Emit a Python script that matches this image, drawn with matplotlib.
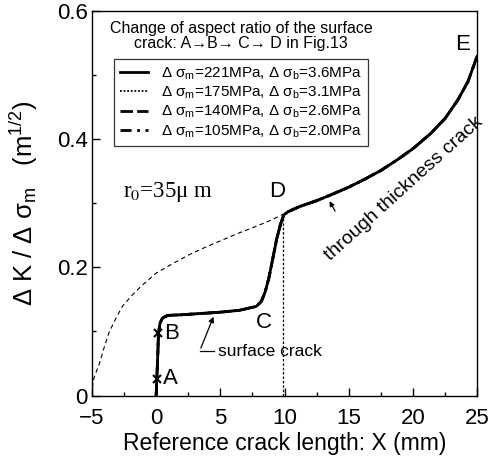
import numpy as np
import matplotlib
matplotlib.use("Agg")
import matplotlib.pyplot as plt
from matplotlib.ticker import MultipleLocator, FuncFormatter

plt.rcParams['font.family'] = ['Liberation Sans', 'DejaVu Sans']
plt.rcParams['mathtext.fontset'] = 'custom'
plt.rcParams['mathtext.rm'] = 'Liberation Sans'
plt.rcParams['mathtext.it'] = 'Liberation Sans'

# normalised K curve for the surface crack -> through thickness crack (A-B-C-D-E)
x_crack = [0, 0.05, 0.12, 0.18, 0.3, 0.5, 0.9, 2, 3.5, 5, 6.5, 7.8, 8.2, 8.5,
           8.8, 9.1, 9.4, 9.7, 9.95, 10.3, 11.2, 12.5, 13.6, 15, 16.2, 17.5,
           18.8, 20, 21.4, 22.5, 23.5, 24.3, 25]
y_crack = [0, 0.026, 0.06, 0.097, 0.113, 0.121, 0.125, 0.126, 0.128, 0.130,
           0.133, 0.139, 0.147, 0.162, 0.185, 0.215, 0.245, 0.268, 0.282,
           0.287, 0.295, 0.304, 0.313, 0.325, 0.337, 0.351, 0.368, 0.385,
           0.409, 0.432, 0.461, 0.490, 0.529]

# through crack of length (X + 5) mm, reference curve
x_through = [-5, -4.95, -4.84, -4.65, -4.45, -4.1, -3.68, -3.2, -2.64, -1.9,
             -1.2, 0, 1.3, 2.6, 3.9, 5.2, 6.5, 7.8, 9, 9.9]
y_through = [0, 0.015, 0.028, 0.038, 0.048, 0.072, 0.098, 0.118, 0.139, 0.156,
             0.170, 0.191, 0.206, 0.220, 0.232, 0.243, 0.254, 0.264, 0.274,
             0.283]

d_sigma_m = [221, 175, 140, 105]
d_sigma_b = [3.6, 3.1, 2.6, 2.0]
styles = ['-', (0, (1, 1)), (0, (4.5, 1.5, 4.5, 1.5, 0.8, 1.5)), (0, (4, 2, 1, 2))]
widths = [2.0, 1.3, 2.0, 2.0]

pts_label = ['A', 'B']
pts_x = [0.08, 0.18]
pts_y = [0.026, 0.097]

fig = plt.figure(figsize=(4.92, 4.63), dpi=100)
ax = fig.add_axes([92 / 492, 1 - 395.5 / 463, 385 / 492, 384.5 / 463])

# all stress levels collapse onto one normalised curve; draw solid last
handles = []
for i in reversed(range(len(d_sigma_m))):
    h, = ax.plot(x_crack, y_crack, color='black', linestyle=styles[i],
                 linewidth=widths[i], zorder=3 + (i == 0),
                 label='Δ σ$_{\\mathrm{m}}$=%dMPa, Δ σ$_{\\mathrm{b}}$=%.1fMPa'
                       % (d_sigma_m[i], d_sigma_b[i]))
    handles.insert(0, h)

ax.plot(x_through, y_through, color='black', linestyle=(0, (4, 3)),
        linewidth=0.8)
ax.plot([x_through[-1], x_through[-1]], [0, y_through[-1]], color='black',
        linestyle=(0, (2, 1.5)), linewidth=0.9)
ax.plot(pts_x, pts_y, linestyle='none', marker='x', color='black',
        markersize=6, markeredgewidth=1.5, zorder=5)

ax.set_xlim(-5, 25)
ax.set_ylim(0, 0.6)
ax.xaxis.set_major_locator(MultipleLocator(5))
ax.xaxis.set_minor_locator(MultipleLocator(2.5))
ax.yaxis.set_major_locator(MultipleLocator(0.2))
ax.yaxis.set_minor_locator(MultipleLocator(0.1))
ax.yaxis.set_major_formatter(FuncFormatter(lambda v, p: '0' if v == 0 else '%.1f' % v))
ax.xaxis.set_major_formatter(FuncFormatter(lambda v, p: '%d' % v if v >= 0 else '\u2212%d' % -v))
ax.tick_params(which='both', direction='in', top=False, right=False,
               labelsize=16, width=1.0)
ax.tick_params(which='major', length=6)
ax.tick_params(which='minor', length=3)
ax.tick_params(axis='x', pad=9)
ax.tick_params(axis='y', pad=3)
for s in ax.spines.values():
    s.set_linewidth(1.0)

ax.set_xlabel('Reference crack length: X (mm)', fontsize=16.5, labelpad=2)
ax.set_ylabel('Δ K / Δ σ$_{\\mathrm{m}}$   (m$^{1/2}$)', fontsize=18.5, labelpad=12)

# point labels
ax.text(1.1, 0.026, 'A', fontsize=16, va='center', ha='center')
ax.text(1.2, 0.097, 'B', fontsize=16, va='center', ha='center')
ax.text(8.4, 0.114, 'C', fontsize=16, va='center', ha='center')
ax.text(9.4, 0.318, 'D', fontsize=16, va='center', ha='center')
ax.text(23.9, 0.548, 'E', fontsize=16, va='center', ha='center')

ax.text(-2.6, 0.318, 'r$_0$=35μ m', fontsize=16.5, va='center', ha='left',
        family=['Liberation Serif', 'DejaVu Serif'], math_fontfamily='stix')

# surface crack label with bent arrow
ax.annotate('', xy=(4.55, 0.127), xytext=(3.4, 0.070),
            arrowprops=dict(arrowstyle='-|>', color='black', lw=0.9,
                            mutation_scale=8))
ax.plot([3.4, 4.5], [0.070, 0.070], color='black', linewidth=0.9)
ax.text(4.8, 0.068, 'surface crack', fontsize=12.5, va='center', ha='left')

ax.annotate('', xy=(13.4, 0.307), xytext=(14.05, 0.284),
            arrowprops=dict(arrowstyle='-|>', color='black', lw=0.9,
                            mutation_scale=7))
ax.text(19.3, 0.322, 'through thickness crack', fontsize=14, rotation=42,
        va='center', ha='center', rotation_mode='anchor')

fig.text(0.49, 1 - 36 / 463, 'Change of aspect ratio of the surface\ncrack: A\u2192B\u2192 C\u2192 D in Fig.13',
         fontsize=11.5, ha='center', va='center', linespacing=1.05)

leg = ax.legend(handles=handles, loc='upper left',
                bbox_to_anchor=(114 / 492, 1 - 59 / 463),
                bbox_transform=fig.transFigure, fontsize=11,
                frameon=True, fancybox=False, edgecolor='black',
                handlelength=1.8, handletextpad=0.85, borderpad=0.4,
                labelspacing=0.2, borderaxespad=0)
leg.get_frame().set_linewidth(0.9)

fig.savefig('out.png', dpi=100)
